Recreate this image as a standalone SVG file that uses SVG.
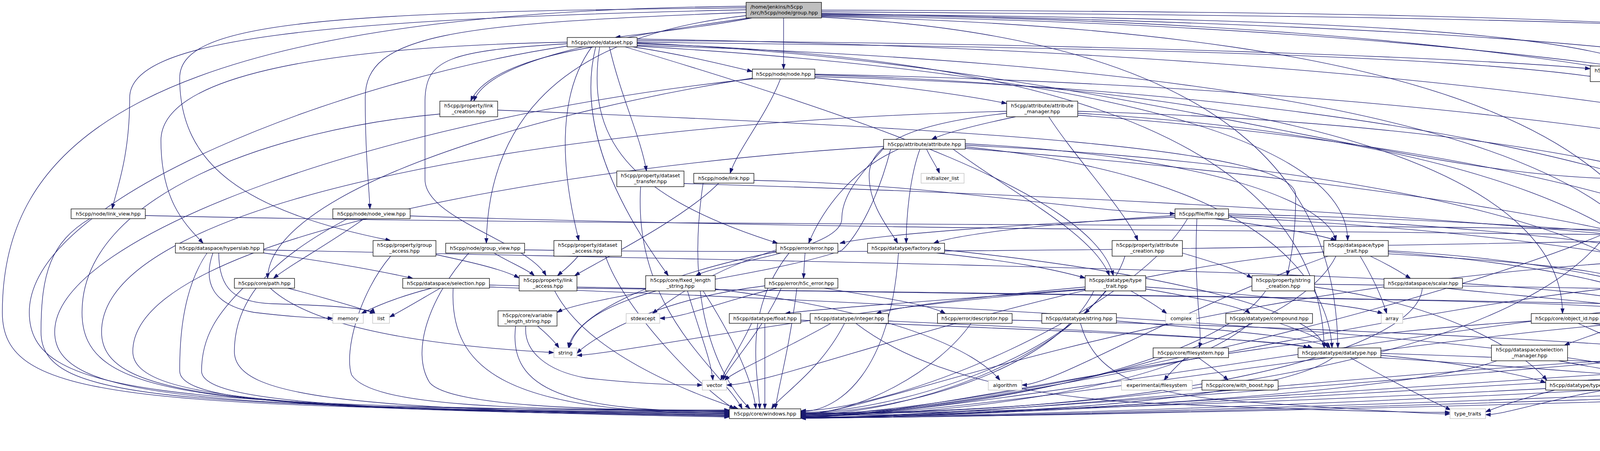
<svg xmlns="http://www.w3.org/2000/svg" width="5977" height="1155" viewBox="0 0 5977 1155">
<style>
.n rect{fill:#fff;stroke:#000;stroke-width:1.3}
.g rect{fill:#fff;stroke:#bfbfbf;stroke-width:1.3}
.r rect{fill:#bfbfbf;stroke:#000;stroke-width:1.3}
text{font-family:"DejaVu Sans","Liberation Sans",sans-serif;font-size:12.8px;fill:#000;text-anchor:middle}
.r text{text-anchor:start}
#edges path{fill:none;stroke:#191970;stroke-width:1.3;marker-end:url(#ah)}
</style>
<defs>
<marker id="ah" viewBox="0 0 13.3 9.4" refX="13.3" refY="4.7" markerWidth="13.3" markerHeight="9.4" markerUnits="userSpaceOnUse" orient="auto"><path d="M0,0 L13.3,4.7 L0,9.4 z" fill="#191970" stroke="#191970" stroke-width="1"/></marker>
</defs>
<rect x="0" y="0" width="5977" height="1155" fill="#fff"/>
<g id="edges">
<path d="M1925,46 C1800,70 1650,85 1575,96"/>
<path d="M2006,46 C2006,100 2006,130 2006,177"/>
<path d="M1910,25 C800,50 332,100 332,250 C332,400 300,480 287,535"/>
<path d="M1910,32 C1150,60 935,90 935,250 C935,400 945,480 947,535"/>
<path d="M1910,40 C1450,90 1250,300 1245,623"/>
<path d="M1918,46 C1600,90 1250,150 1213,259"/>
<path d="M1910,20 C800,30 460,60 460,200 C460,420 620,540 1000,616"/>
<path d="M2103,30 C4000,45 5086,60 5086,200 L5086,616"/>
<path d="M2103,26 C4500,30 5200,80 5545,348"/>
<path d="M2103,34 C3500,60 4643,120 4643,250 L4643,616"/>
<path d="M2103,38 C4500,60 5300,400 5816,891"/>
<path d="M1910,16 C300,30 6,400 6,800 C6,1020 300,1045 1867,1056"/>
<path d="M2103,42 C3800,80 4250,400 4290,803"/>
<path d="M2103,44 C3200,100 3420,500 3425,891"/>
<path d="M2103,36 C3800,50 4339,100 4339,300 C4339,450 4270,500 4262,527"/>
<path d="M2103,40 C4800,80 5960,500 5960,900 C5960,1020 5750,1058 5581,1060"/>
<path d="M1620,120 C1750,140 1850,165 1926,183"/>
<path d="M1520,120 C1400,140 1240,180 1205,259"/>
<path d="M1560,120 C1590,250 1640,350 1655,438"/>
<path d="M1515,120 C1420,250 1440,450 1482,616"/>
<path d="M1452,112 C1150,130 1088,150 1088,260 L1088,460 C1088,560 1350,620 1398,706"/>
<path d="M1525,120 C1480,300 1560,500 1711,706"/>
<path d="M1535,120 C1500,350 1600,500 1991,623"/>
<path d="M1452,108 C800,120 412,200 412,360 C412,520 480,580 520,623"/>
<path d="M1631,104 C2800,110 3800,150 4071,176"/>
<path d="M1631,108 C3500,130 4398,160 4398,320 C4398,450 4300,500 4275,527"/>
<path d="M1631,112 C3000,150 3380,500 3390,891"/>
<path d="M1631,116 C3800,180 4270,500 4275,803"/>
<path d="M1631,118 C3000,200 3450,400 3450,616"/>
<path d="M1452,118 C900,200 75,500 75,800 C75,1010 400,1040 1867,1054"/>
<path d="M1631,110 C2800,160 3600,457 4147,457"/>
<path d="M1631,100 C4700,150 5930,600 5930,920 C5930,1030 5700,1064 5581,1064"/>
<path d="M1600,120 C2200,300 2800,500 2850,706"/>
<path d="M1998,202 C1960,300 1890,380 1869,444"/>
<path d="M2086,199 C2300,220 2480,245 2577,265"/>
<path d="M1926,200 C1300,300 690,500 685,713"/>
<path d="M2086,196 C4000,250 4900,600 4920,974"/>
<path d="M2086,192 C3500,230 4000,500 4000,803"/>
<path d="M2086,190 C4500,240 5700,600 5800,891"/>
<path d="M1926,202 C1000,300 140,600 140,850 C140,1020 500,1045 1867,1058"/>
<path d="M4153,209 C4180,300 4215,380 4220,444"/>
<path d="M1274,282 C2500,330 3317,380 3317,500 C3317,620 3300,680 3295,706"/>
<path d="M1126,292 C700,330 210,500 210,800 C210,1020 500,1046 1867,1060"/>
<path d="M2600,299 C2500,320 2420,340 2385,357"/>
<path d="M2685,299 C2750,400 2880,540 2913,616"/>
<path d="M2577,290 C2300,320 2225,380 2225,450 C2225,530 2280,590 2298,623"/>
<path d="M2759,285 C4000,320 4560,500 4600,616"/>
<path d="M2577,285 C1500,310 260,500 260,850 C260,1020 600,1048 1867,1062"/>
<path d="M2759,295 C4200,400 4850,700 4880,974"/>
<path d="M2759,290 C3800,350 4300,600 4300,803"/>
<path d="M2372,382 C2385,410 2400,430 2405,444"/>
<path d="M2355,382 C2330,450 2320,550 2320,623"/>
<path d="M2300,382 C2170,440 2100,550 2070,623"/>
<path d="M2471,372 C3500,420 4250,600 4270,803"/>
<path d="M2471,376 C3200,450 3400,700 3410,891"/>
<path d="M2471,368 C3100,400 3400,520 3420,616"/>
<path d="M2440,382 C2600,500 2800,600 2840,706"/>
<path d="M2471,380 C4000,500 4880,700 4900,974"/>
<path d="M2262,375 C1500,420 340,600 340,900 C340,1020 700,1048 1867,1064"/>
<path d="M2262,380 C2200,450 2155,500 2155,560 C2155,640 1850,670 1781,706"/>
<path d="M2280,382 C2250,500 2200,600 2155,641 C2000,700 1500,760 1426,800"/>
<path d="M5603,388 C5700,440 5713,480 5713,560 L5713,650 C5713,730 5500,780 5271,803"/>
<path d="M1751,470 C3500,520 5100,650 5140,796"/>
<path d="M1640,478 C1620,800 1850,950 1900,1047"/>
<path d="M1840,469 C1750,560 1550,660 1471,706"/>
<path d="M1930,462 C2400,470 2800,547 3008,547"/>
<path d="M1800,469 C1750,800 1850,980 1920,1047"/>
<path d="M4222,469 C4218,490 4214,510 4213,527"/>
<path d="M4301,466 C4550,495 4700,530 4782,543"/>
<path d="M4170,469 C4100,900 3000,1058 2050,1058"/>
<path d="M372,552 C2000,590 4400,560 4590,616"/>
<path d="M230,560 C130,620 105,700 105,850 C105,1020 400,1044 1867,1052"/>
<path d="M932,560 C850,620 740,680 700,713"/>
<path d="M890,560 C720,650 600,750 600,900 C600,1020 900,1048 1867,1064"/>
<path d="M1050,553 C2500,600 4400,590 4610,616"/>
<path d="M3008,556 C2600,575 2250,600 2150,623"/>
<path d="M3110,560 C3250,580 3380,600 3420,616"/>
<path d="M3064,560 C3055,750 3080,850 3070,891"/>
<path d="M3145,552 C4500,600 5100,800 5130,974"/>
<path d="M3145,556 C4400,620 4880,800 4910,974"/>
<path d="M3145,548 C4500,580 5100,700 5130,796"/>
<path d="M3040,560 C2900,800 2300,1050 2050,1052"/>
<path d="M3008,552 C2700,570 2450,600 2390,623"/>
<path d="M4297,565 C4600,600 4800,680 4891,714"/>
<path d="M4177,567 C3800,750 2600,1050 2050,1064"/>
<path d="M4260,567 C4350,700 4460,800 4470,891"/>
<path d="M4297,560 C5000,650 5400,900 5420,1047"/>
<path d="M4945,555 C5300,600 5480,900 5480,1047"/>
<path d="M675,648 C850,670 1000,700 1057,713"/>
<path d="M545,648 C520,720 540,780 650,800 C750,812 820,815 852,815"/>
<path d="M560,648 C560,740 600,775 700,778 C850,782 950,790 960,803"/>
<path d="M530,648 C460,750 460,900 460,950 C460,1030 800,1050 1867,1066"/>
<path d="M675,640 C2500,680 4200,700 4260,803"/>
<path d="M1116,652 C1200,670 1290,690 1329,712"/>
<path d="M1000,656 C920,750 880,900 900,960 C950,1040 1300,1050 1867,1050"/>
<path d="M1265,648 C1300,670 1350,690 1368,706"/>
<path d="M1200,648 C1100,760 1050,900 1100,980 C1150,1040 1500,1050 1867,1052"/>
<path d="M1343,640 C2800,660 4500,600 4590,616"/>
<path d="M1480,656 C1460,680 1440,695 1427,706"/>
<path d="M1550,656 C1600,800 1800,1000 1880,1047"/>
<path d="M2061,648 C2059,670 2058,695 2057,713"/>
<path d="M1987,640 C1800,700 1700,780 1670,803"/>
<path d="M2020,648 C1900,800 1940,950 1945,1047"/>
<path d="M1987,645 C1700,700 1470,800 1455,891"/>
<path d="M2398,648 C2600,670 2700,690 2778,712"/>
<path d="M2300,648 C2280,950 2150,1054 2050,1054"/>
<path d="M2418,640 C3000,700 3380,800 3390,891"/>
<path d="M3027,648 C3100,670 3170,690 3205,712"/>
<path d="M2880,656 C2800,900 2300,1056 2050,1056"/>
<path d="M3508,656 C3560,680 3590,700 3611,713"/>
<path d="M3482,656 C3520,720 3540,770 3550,803"/>
<path d="M3554,650 C3900,670 4080,690 4152,714"/>
<path d="M3554,645 C4000,680 4260,750 4275,803"/>
<path d="M3554,642 C4200,680 4450,800 4460,891"/>
<path d="M3389,645 C2700,700 2000,986 1860,986"/>
<path d="M3400,656 C3000,800 2700,986 2616,986"/>
<path d="M3420,656 C3300,900 2500,1060 2050,1060"/>
<path d="M4620,656 C4560,760 4500,840 4490,891"/>
<path d="M4667,656 C4740,760 4740,950 4790,1010 C4840,1050 4880,1056 4895,1056"/>
<path d="M4569,650 C3000,700 2300,1050 2050,1062"/>
<path d="M4714,650 C5200,700 5440,900 5450,1047"/>
<path d="M5061,656 C5040,680 5015,695 5002,706"/>
<path d="M5087,656 C5085,760 5000,840 4936,884"/>
<path d="M5113,656 C5120,800 5060,920 5020,974"/>
<path d="M737,738 C820,760 910,785 960,803"/>
<path d="M692,738 C780,820 1000,880 1418,903"/>
<path d="M622,738 C560,800 516,860 516,950 C516,1030 900,1050 1867,1068"/>
<path d="M1105,738 C1020,760 960,785 925,803"/>
<path d="M1127,738 C1080,765 1030,795 997,812"/>
<path d="M1253,730 C2500,760 4200,760 4260,803"/>
<path d="M1160,738 C1150,950 1300,1058 1867,1058"/>
<path d="M1253,735 C3000,800 4200,900 4240,974"/>
<path d="M1477,738 C3500,760 4900,790 5093,810"/>
<path d="M1420,745 C1500,900 1750,1000 1890,1047"/>
<path d="M1680,745 C1520,790 1470,840 1457,891"/>
<path d="M1760,745 C1790,850 1820,920 1825,974"/>
<path d="M1800,745 C1900,900 1930,1000 1935,1047"/>
<path d="M1831,740 C2300,800 2500,900 2560,974"/>
<path d="M2110,738 C2250,760 2380,780 2420,803"/>
<path d="M1990,738 C1850,770 1750,815 1689,815"/>
<path d="M2000,738 C1950,850 1870,930 1850,974"/>
<path d="M2040,738 C2020,900 1990,1000 1985,1047"/>
<path d="M1958,732 C1650,770 1500,880 1477,905"/>
<path d="M2778,735 C2500,760 2300,785 2243,803"/>
<path d="M2778,740 C2400,770 2100,790 2010,803"/>
<path d="M2832,745 C2810,770 2790,790 2777,803"/>
<path d="M2895,745 C2940,770 2970,790 2987,803"/>
<path d="M2933,740 C3050,760 3180,785 3200,803"/>
<path d="M2933,735 C3300,760 3500,790 3540,803"/>
<path d="M2778,742 C2200,780 1600,905 1477,910"/>
<path d="M2800,745 C2700,950 2300,1058 2050,1058"/>
<path d="M3365,735 C3700,780 3900,900 3960,974"/>
<path d="M3365,728 C4500,740 5000,760 5100,796"/>
<path d="M3240,745 C3100,950 2400,1064 2050,1064"/>
<path d="M3700,738 C3900,760 4200,780 4240,803"/>
<path d="M3641,738 C3630,900 3000,1060 2050,1060"/>
<path d="M4262,738 C4272,760 4282,785 4285,803"/>
<path d="M4309,738 C4400,800 4460,850 4470,891"/>
<path d="M4152,735 C3500,800 2500,1066 2050,1066"/>
<path d="M5021,745 C5070,765 5110,785 5124,796"/>
<path d="M4966,745 C4940,800 4905,850 4892,884"/>
<path d="M4891,730 C4000,760 2500,1068 2050,1068"/>
<path d="M1376,835 C1400,855 1420,875 1431,891"/>
<path d="M1346,835 C1340,900 1400,950 1500,968 C1650,985 1760,986 1798,986"/>
<path d="M1320,835 C1300,1000 1450,1054 1867,1054"/>
<path d="M2050,820 C2800,850 3300,870 3360,891"/>
<path d="M1924,828 C1890,900 1860,940 1845,974"/>
<path d="M1958,828 L1958,1047"/>
<path d="M2274,822 C2900,850 3300,875 3350,891"/>
<path d="M2127,828 C2000,900 1880,950 1855,974"/>
<path d="M2162,828 C2100,950 2000,1010 1975,1047"/>
<path d="M2191,828 C2350,950 2600,1010 2900,1030 C3300,1050 3600,1056 3712,1056"/>
<path d="M2486,828 C2400,950 2200,1060 2050,1060"/>
<path d="M2591,820 C4000,850 5300,950 5400,1047"/>
<path d="M2858,822 C3200,850 3390,870 3400,891"/>
<path d="M2744,828 C2600,950 2300,1062 2050,1062"/>
<path d="M2766,828 C2800,950 2900,1010 3200,1030 C3500,1050 3650,1060 3712,1060"/>
<path d="M3276,828 C3340,850 3390,870 3405,891"/>
<path d="M3200,828 C3000,1000 2400,1066 2050,1066"/>
<path d="M4074,828 C4400,870 4700,930 4826,980"/>
<path d="M4040,828 C4300,950 4700,1060 4895,1060"/>
<path d="M3920,822 C3000,880 2400,1068 2050,1068"/>
<path d="M4103,820 C4800,850 5300,950 5400,1047"/>
<path d="M4291,828 C4285,900 4275,940 4272,974"/>
<path d="M4320,828 C4380,850 4430,870 4449,891"/>
<path d="M4350,828 C4600,880 4800,940 4880,974"/>
<path d="M4179,822 C4100,850 4040,870 4005,884"/>
<path d="M4179,826 C3500,880 2500,1066 2050,1066"/>
<path d="M4410,822 C5000,850 5400,950 5420,1047"/>
<path d="M5172,835 C5165,855 5155,870 5150,884"/>
<path d="M5205,835 C5260,880 5250,940 5042,982"/>
<path d="M5271,825 C5600,860 5620,950 5560,1047"/>
<path d="M5128,835 C4500,900 2500,1070 2050,1070"/>
<path d="M5110,835 C5050,950 5000,1058 4974,1058"/>
<path d="M3035,916 C3010,940 2990,960 2980,974"/>
<path d="M3068,916 C3100,940 3130,960 3144,974"/>
<path d="M3535,910 C3750,930 3900,960 3957,980"/>
<path d="M3457,916 C3550,970 3650,1020 3714,1050"/>
<path d="M3535,905 C4300,930 4750,960 4826,978"/>
<path d="M3412,916 C3300,1000 2800,1064 2050,1064"/>
<path d="M3535,916 C4500,980 5200,1056 5393,1056"/>
<path d="M3990,924 C4100,945 4200,960 4240,974"/>
<path d="M3832,924 C3600,1010 2500,1068 2050,1068"/>
<path d="M4471,916 C4455,940 4445,955 4440,974"/>
<path d="M4488,916 C4496,940 4503,955 4507,974"/>
<path d="M4516,916 C4550,940 4575,958 4589,974"/>
<path d="M4561,910 C5000,930 5350,980 5410,1047"/>
<path d="M4400,910 C3600,940 2600,1070 2050,1070"/>
<path d="M4966,916 C5200,950 5380,1000 5420,1047"/>
<path d="M4790,916 C4000,960 2600,1071 2050,1071"/>
<path d="M5080,924 C5030,945 4990,962 4966,974"/>
<path d="M5220,913 C5400,930 5490,970 5492,1047"/>
<path d="M5043,918 C4200,960 2600,1071 2050,1071"/>
<path d="M5827,916 C5800,980 5700,1030 5575,1047"/>
<path d="M5787,916 C5200,990 2600,1071 2050,1071"/>
<path d="M5752,910 C5300,960 5100,1062 4974,1062"/>
<path d="M3980,999 C3900,1020 3840,1040 3803,1055"/>
<path d="M4146,992 C4800,1010 5200,1058 5393,1058"/>
<path d="M3957,995 C3500,1020 2500,1060 2050,1060"/>
<path d="M4364,995 C4900,1020 5200,1062 5393,1062"/>
<path d="M4172,995 C3500,1030 2600,1068 2050,1068"/>
<path d="M4172,990 C4000,1010 3860,1062 3803,1062"/>
<path d="M4934,999 L4934,1047"/>
<path d="M5042,996 C5200,1010 5350,1030 5400,1047"/>
<path d="M4826,995 C4000,1030 2600,1070 2050,1070"/>
<path d="M5220,995 C5300,1010 5380,1030 5405,1047"/>
<path d="M5107,999 C5060,1015 5000,1035 4974,1047"/>
<path d="M5067,995 C4300,1030 2600,1070 2050,1070"/>
<path d="M5478,1072 C5468,1090 5455,1108 5448,1121"/>
<path d="M5496,1072 C5505,1090 5515,1108 5522,1121"/>
</g>
<g id="group" class="r"><rect x="1910" y="6" width="193" height="40"/><text x="1921" y="22">/home/jenkins/h5cpp</text><text x="1921" y="37">/src/h5cpp/node/group.hpp</text></g>
<g id="dataset" class="n"><rect x="1452" y="96" width="179" height="24"/><text x="1541.5" y="113">h5cpp/node/dataset.hpp</text></g>
<g id="node" class="n"><rect x="1926" y="177" width="160" height="25"/><text x="2006" y="194">h5cpp/node/node.hpp</text></g>
<g id="external_filter" class="n"><rect x="4071" y="169" width="153" height="40"/><text x="4147.5" y="185">h5cpp/filter/external</text><text x="4147.5" y="200">_filter.hpp</text></g>
<g id="link_creation" class="n"><rect x="1126" y="259" width="148" height="40"/><text x="1200" y="275">h5cpp/property/link</text><text x="1200" y="290">_creation.hpp</text></g>
<g id="attribute_manager" class="n"><rect x="2577" y="259" width="182" height="40"/><text x="2668" y="275">h5cpp/attribute/attribute</text><text x="2668" y="290">_manager.hpp</text></g>
<g id="attribute" class="n"><rect x="2262" y="357" width="209" height="25"/><text x="2366.5" y="374">h5cpp/attribute/attribute.hpp</text></g>
<g id="object_copy" class="n"><rect x="5489" y="348" width="163" height="40"/><text x="5570.5" y="364">h5cpp/property/object</text><text x="5570.5" y="379">_copy.hpp</text></g>
<g id="initializer_list" class="g"><rect x="2358" y="444" width="110" height="25"/><text x="2413" y="461">initializer_list</text></g>
<g id="dataset_transfer" class="n"><rect x="1579" y="438" width="172" height="40"/><text x="1665" y="454">h5cpp/property/dataset</text><text x="1665" y="469">_transfer.hpp</text></g>
<g id="link" class="n"><rect x="1776" y="444" width="154" height="25"/><text x="1853" y="461">h5cpp/node/link.hpp</text></g>
<g id="filter" class="n"><rect x="4147" y="444" width="154" height="25"/><text x="4224" y="461">h5cpp/filter/filter.hpp</text></g>
<g id="link_view" class="n"><rect x="182" y="535" width="190" height="25"/><text x="277" y="552">h5cpp/node/link_view.hpp</text></g>
<g id="node_view" class="n"><rect x="852" y="535" width="198" height="25"/><text x="951" y="552">h5cpp/node/node_view.hpp</text></g>
<g id="file" class="n"><rect x="3008" y="535" width="137" height="25"/><text x="3076.5" y="552">h5cpp/file/file.hpp</text></g>
<g id="dataset_creation" class="n"><rect x="4124" y="527" width="173" height="40"/><text x="4210.5" y="543">h5cpp/property/dataset</text><text x="4210.5" y="558">_creation.hpp</text></g>
<g id="filter_types" class="n"><rect x="4782" y="535" width="163" height="25"/><text x="4863.5" y="552">h5cpp/filter/types.hpp</text></g>
<g id="hyperslab" class="n"><rect x="449" y="623" width="226" height="25"/><text x="562" y="640">h5cpp/dataspace/hyperslab.hpp</text></g>
<g id="group_access" class="n"><rect x="955" y="616" width="161" height="40"/><text x="1035.5" y="632">h5cpp/property/group</text><text x="1035.5" y="647">_access.hpp</text></g>
<g id="group_view" class="n"><rect x="1141" y="623" width="202" height="25"/><text x="1242" y="640">h5cpp/node/group_view.hpp</text></g>
<g id="dataset_access" class="n"><rect x="1418" y="616" width="173" height="40"/><text x="1504.5" y="632">h5cpp/property/dataset</text><text x="1504.5" y="647">_access.hpp</text></g>
<g id="error" class="n"><rect x="1987" y="623" width="158" height="25"/><text x="2066" y="640">h5cpp/error/error.hpp</text></g>
<g id="factory" class="n"><rect x="2221" y="623" width="197" height="25"/><text x="2319.5" y="640">h5cpp/datatype/factory.hpp</text></g>
<g id="attribute_creation" class="n"><rect x="2847" y="616" width="180" height="40"/><text x="2937" y="632">h5cpp/property/attribute</text><text x="2937" y="647">_creation.hpp</text></g>
<g id="dataspace_type_trait" class="n"><rect x="3389" y="616" width="165" height="40"/><text x="3471.5" y="632">h5cpp/dataspace/type</text><text x="3471.5" y="647">_trait.hpp</text></g>
<g id="iterator_config" class="n"><rect x="4569" y="616" width="145" height="40"/><text x="4641.5" y="632">h5cpp/core/iterator</text><text x="4641.5" y="647">_config.hpp</text></g>
<g id="group_creation" class="n"><rect x="5007" y="616" width="161" height="40"/><text x="5087.5" y="632">h5cpp/property/group</text><text x="5087.5" y="647">_creation.hpp</text></g>
<g id="path" class="n"><rect x="600" y="713" width="154" height="25"/><text x="677" y="730">h5cpp/core/path.hpp</text></g>
<g id="selection" class="n"><rect x="1031" y="713" width="222" height="25"/><text x="1142" y="730">h5cpp/dataspace/selection.hpp</text></g>
<g id="link_access" class="n"><rect x="1329" y="706" width="148" height="39"/><text x="1403" y="722">h5cpp/property/link</text><text x="1403" y="737">_access.hpp</text></g>
<g id="fixed_length_string" class="n"><rect x="1653" y="706" width="178" height="39"/><text x="1742" y="722">h5cpp/core/fixed_length</text><text x="1742" y="737">_string.hpp</text></g>
<g id="h5c_error" class="n"><rect x="1958" y="713" width="187" height="25"/><text x="2051.5" y="730">h5cpp/error/h5c_error.hpp</text></g>
<g id="datatype_type_trait" class="n"><rect x="2778" y="706" width="155" height="39"/><text x="2855.5" y="722">h5cpp/datatype/type</text><text x="2855.5" y="737">_trait.hpp</text></g>
<g id="string_creation" class="n"><rect x="3205" y="706" width="160" height="39"/><text x="3285" y="722">h5cpp/property/string</text><text x="3285" y="737">_creation.hpp</text></g>
<g id="scalar" class="n"><rect x="3543" y="713" width="201" height="25"/><text x="3643.5" y="730">h5cpp/dataspace/scalar.hpp</text></g>
<g id="simple" class="n"><rect x="4152" y="713" width="207" height="25"/><text x="4255.5" y="730">h5cpp/dataspace/simple.hpp</text></g>
<g id="object_creation" class="n"><rect x="4891" y="706" width="164" height="39"/><text x="4973" y="722">h5cpp/property/object</text><text x="4973" y="737">_creation.hpp</text></g>
<g id="memory" class="g"><rect x="852" y="803" width="78" height="25"/><text x="891" y="820">memory</text></g>
<g id="list" class="g"><rect x="954" y="803" width="43" height="25"/><text x="975.5" y="820">list</text></g>
<g id="variable_length_string" class="n"><rect x="1275" y="796" width="151" height="39"/><text x="1350.5" y="812">h5cpp/core/variable</text><text x="1350.5" y="827">_length_string.hpp</text></g>
<g id="stdexcept" class="g"><rect x="1603" y="803" width="86" height="25"/><text x="1646" y="820">stdexcept</text></g>
<g id="float" class="n"><rect x="1867" y="803" width="183" height="25"/><text x="1958.5" y="820">h5cpp/datatype/float.hpp</text></g>
<g id="integer" class="n"><rect x="2074" y="803" width="200" height="25"/><text x="2174" y="820">h5cpp/datatype/integer.hpp</text></g>
<g id="descriptor" class="n"><rect x="2400" y="803" width="191" height="25"/><text x="2495.5" y="820">h5cpp/error/descriptor.hpp</text></g>
<g id="datatype_string" class="n"><rect x="2667" y="803" width="191" height="25"/><text x="2762.5" y="820">h5cpp/datatype/string.hpp</text></g>
<g id="complex" class="g"><rect x="2984" y="803" width="79" height="25"/><text x="3023.5" y="820">complex</text></g>
<g id="compound" class="n"><rect x="3138" y="803" width="222" height="25"/><text x="3249" y="820">h5cpp/datatype/compound.hpp</text></g>
<g id="array" class="g"><rect x="3536" y="803" width="55" height="25"/><text x="3563.5" y="820">array</text></g>
<g id="object_id" class="n"><rect x="3920" y="803" width="183" height="25"/><text x="4011.5" y="820">h5cpp/core/object_id.hpp</text></g>
<g id="dataspace" class="n"><rect x="4179" y="803" width="231" height="25"/><text x="4294.5" y="820">h5cpp/dataspace/dataspace.hpp</text></g>
<g id="property_list" class="n"><rect x="5093" y="796" width="178" height="39"/><text x="5182" y="812">h5cpp/property/property</text><text x="5182" y="827">_list.hpp</text></g>
<g id="string" class="g"><rect x="1418" y="891" width="59" height="25"/><text x="1447.5" y="908">string</text></g>
<g id="filesystem" class="n"><rect x="2952" y="891" width="193" height="25"/><text x="3048.5" y="908">h5cpp/core/filesystem.hpp</text></g>
<g id="datatype" class="n"><rect x="3323" y="891" width="212" height="25"/><text x="3429" y="908">h5cpp/datatype/datatype.hpp</text></g>
<g id="selection_manager" class="n"><rect x="3818" y="884" width="195" height="40"/><text x="3915.5" y="900">h5cpp/dataspace/selection</text><text x="3915.5" y="915">_manager.hpp</text></g>
<g id="core_types" class="n"><rect x="4400" y="891" width="161" height="25"/><text x="4480.5" y="908">h5cpp/core/types.hpp</text></g>
<g id="creation_order" class="n"><rect x="4790" y="884" width="176" height="40"/><text x="4878" y="900">h5cpp/property/creation</text><text x="4878" y="915">_order.hpp</text></g>
<g id="property_class" class="n"><rect x="5043" y="884" width="177" height="40"/><text x="5131.5" y="900">h5cpp/property/property</text><text x="5131.5" y="915">_class.hpp</text></g>
<g id="node_types" class="n"><rect x="5752" y="891" width="165" height="25"/><text x="5834.5" y="908">h5cpp/node/types.hpp</text></g>
<g id="vector" class="g"><rect x="1798" y="974" width="62" height="25"/><text x="1829" y="991">vector</text></g>
<g id="algorithm" class="g"><rect x="2530" y="974" width="86" height="25"/><text x="2573" y="991">algorithm</text></g>
<g id="experimental_filesystem" class="g"><rect x="2871" y="974" width="181" height="25"/><text x="2961.5" y="991">experimental/filesystem</text></g>
<g id="with_boost" class="n"><rect x="3077" y="974" width="195" height="25"/><text x="3174.5" y="991">h5cpp/core/with_boost.hpp</text></g>
<g id="datatype_types" class="n"><rect x="3957" y="974" width="189" height="25"/><text x="4051.5" y="991">h5cpp/datatype/types.hpp</text></g>
<g id="dataspace_type" class="n"><rect x="4172" y="974" width="192" height="25"/><text x="4268" y="991">h5cpp/dataspace/type.hpp</text></g>
<g id="sstream" class="g"><rect x="4390" y="974" width="73" height="25"/><text x="4426.5" y="991">sstream</text></g>
<g id="cstring" class="g"><rect x="4488" y="974" width="66" height="25"/><text x="4521" y="991">cstring</text></g>
<g id="iterator" class="g"><rect x="4580" y="974" width="70" height="25"/><text x="4615" y="991">iterator</text></g>
<g id="object_handle" class="n"><rect x="4826" y="974" width="216" height="25"/><text x="4934" y="991">h5cpp/core/object_handle.hpp</text></g>
<g id="file_types" class="n"><rect x="5067" y="974" width="153" height="25"/><text x="5143.5" y="991">h5cpp/file/types.hpp</text></g>
<g id="windows" class="n"><rect x="1867" y="1047" width="183" height="25"/><text x="1958.5" y="1064">h5cpp/core/windows.hpp</text></g>
<g id="type_traits" class="g"><rect x="3712" y="1047" width="91" height="25"/><text x="3757.5" y="1064">type_traits</text></g>
<g id="iostream" class="g"><rect x="4895" y="1047" width="79" height="25"/><text x="4934.5" y="1064">iostream</text></g>
<g id="hdf5_capi" class="n"><rect x="5393" y="1047" width="188" height="25"/><text x="5487" y="1064">h5cpp/core/hdf5_capi.hpp</text></g>
<g id="hdf5_h" class="g"><rect x="5406" y="1121" width="62" height="25"/><text x="5437" y="1138">hdf5.h</text></g>
<g id="hdf5_hl_h" class="g"><rect x="5493" y="1121" width="83" height="25"/><text x="5534.5" y="1138">hdf5_hl.h</text></g>
</svg>
